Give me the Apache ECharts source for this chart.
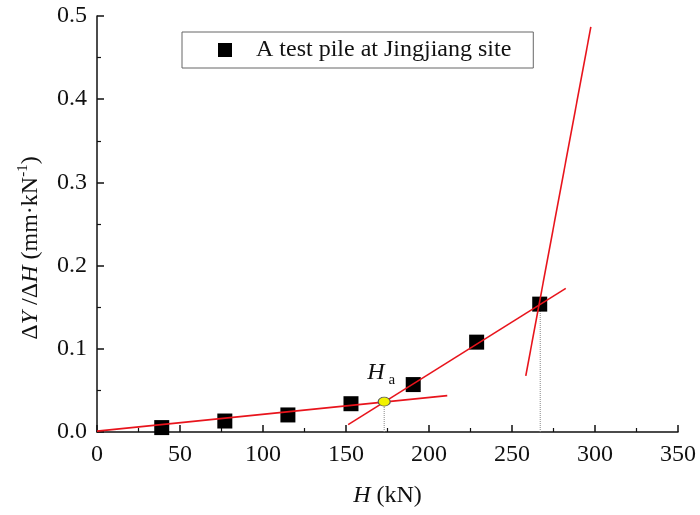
<!DOCTYPE html>
<html>
<head>
<meta charset="utf-8">
<script src="https://cdn.jsdelivr.net/npm/echarts@6/dist/echarts.min.js"></script>
<style>html,body{margin:0;padding:0;background:#fff}#c{width:700px;height:515px}</style>
</head>
<body>
<div id="c"></div>
<script>
// ---- data ----
const H = [39, 77, 115, 153, 190.5, 228.7, 266.7];
const dYdH = [0.0053, 0.0132, 0.0205, 0.034, 0.057, 0.108, 0.1537];
const fit1 = [[0, 0.001], [211, 0.0437]];
const fit2 = [[151.3, 0.0089], [282.4, 0.1727]];
const fit3 = [[258.3, 0.0674], [297.5, 0.487]];
const pointHa = [173, 0.0365];
const pointHu = [267, 0.153];
const seriesName = 'A test pile at Jingjiang site';

const serif = 'Liberation Serif';
const chart = echarts.init(document.getElementById('c'), null, {renderer: 'canvas'});
const axisCommon = {
  axisLine: {show: true, onZero: false, lineStyle: {color: '#111', width: 1.5}},
  axisTick: {show: true, inside: true, length: 7, lineStyle: {color: '#111', width: 1.5}},
  minorTick: {show: true, splitNumber: 2, length: 4, lineStyle: {color: '#111', width: 1.2}},
  splitLine: {show: false},
  axisLabel: {color: '#111', fontSize: 24, fontFamily: serif}
};
chart.setOption({
  animation: false,
  backgroundColor: '#fff',
  grid: {left: 97, right: 22, top: 16, bottom: 83},
  legend: {
    data: [seriesName],
    left: 182, top: 32,
    padding: [6, 22, 6, 36],
    itemWidth: 14, itemHeight: 14,
    icon: 'rect',
    borderColor: '#666', borderWidth: 1,
    itemStyle: {color: '#000'},
    textStyle: {color: '#111', fontSize: 24, fontFamily: serif, padding: [0, 0, 0, 19]}
  },
  xAxis: Object.assign({}, axisCommon, {
    type: 'value', min: 0, max: 350, interval: 50,
    axisLabel: Object.assign({}, axisCommon.axisLabel, {margin: 11}),
    name: '{i|H} (kN)', nameLocation: 'middle', nameGap: 52,
    nameTextStyle: {color: '#111', fontSize: 24, fontFamily: serif,
      rich: {i: {fontStyle: 'italic', fontSize: 24, fontFamily: serif, color: '#111'}}}
  }),
  yAxis: Object.assign({}, axisCommon, {
    type: 'value', min: 0, max: 0.5, interval: 0.1,
    axisLabel: Object.assign({}, axisCommon.axisLabel, {margin: 10, formatter: v => v.toFixed(1)}),
    name: '{n|Δ}{i|Y}{n| /Δ}{i|H}{n| (mm·kN}{s|-1}{n|)}',
    nameLocation: 'middle', nameRotate: 90, nameGap: 52,
    nameTextStyle: {padding: [0, 48, 0, 0],
      rich: {
        n: {fontSize: 24, fontFamily: serif, color: '#111'},
        i: {fontSize: 24, fontFamily: serif, fontStyle: 'italic', color: '#111'},
        s: {fontSize: 15, fontFamily: serif, color: '#111', padding: [0, 0, 14, 0]}
      }}
  }),
  series: [
    {name: seriesName, type: 'scatter', symbol: 'rect', symbolSize: 15,
     itemStyle: {color: '#000', opacity: 1}, z: 2,
     data: H.map((h, i) => [h, dYdH[i]])},
    {name: 'dot1', type: 'line', showSymbol: false, silent: true, z: 1,
     lineStyle: {color: '#888', width: 1, type: 'dotted'},
     data: [[pointHa[0], 0], pointHa]},
    {name: 'dot2', type: 'line', showSymbol: false, silent: true, z: 1,
     lineStyle: {color: '#888', width: 1, type: 'dotted'},
     data: [[pointHu[0], 0], pointHu]},
    {name: 'fit1', type: 'line', showSymbol: false, z: 3,
     lineStyle: {color: '#e8141c', width: 1.6}, data: fit1},
    {name: 'fit2', type: 'line', showSymbol: false, z: 3,
     lineStyle: {color: '#e8141c', width: 1.6}, data: fit2},
    {name: 'fit3', type: 'line', showSymbol: false, z: 3,
     lineStyle: {color: '#e8141c', width: 1.6}, data: fit3},
    {name: 'Ha', type: 'scatter', symbol: 'circle', symbolSize: [12, 9], z: 4,
     itemStyle: {color: '#f2f200', borderColor: '#555', borderWidth: 1, opacity: 1},
     label: {show: true, position: 'top', distance: 4, offset: [-3, -5],
       formatter: '{h|H}{a|a}',
       rich: {
         h: {fontSize: 24, fontFamily: serif, fontStyle: 'italic', color: '#111'},
         a: {fontSize: 15, fontFamily: serif, color: '#111', padding: [16, 0, 0, 4]}
       }},
     data: [pointHa]}
  ]
});
</script>
</body>
</html>
